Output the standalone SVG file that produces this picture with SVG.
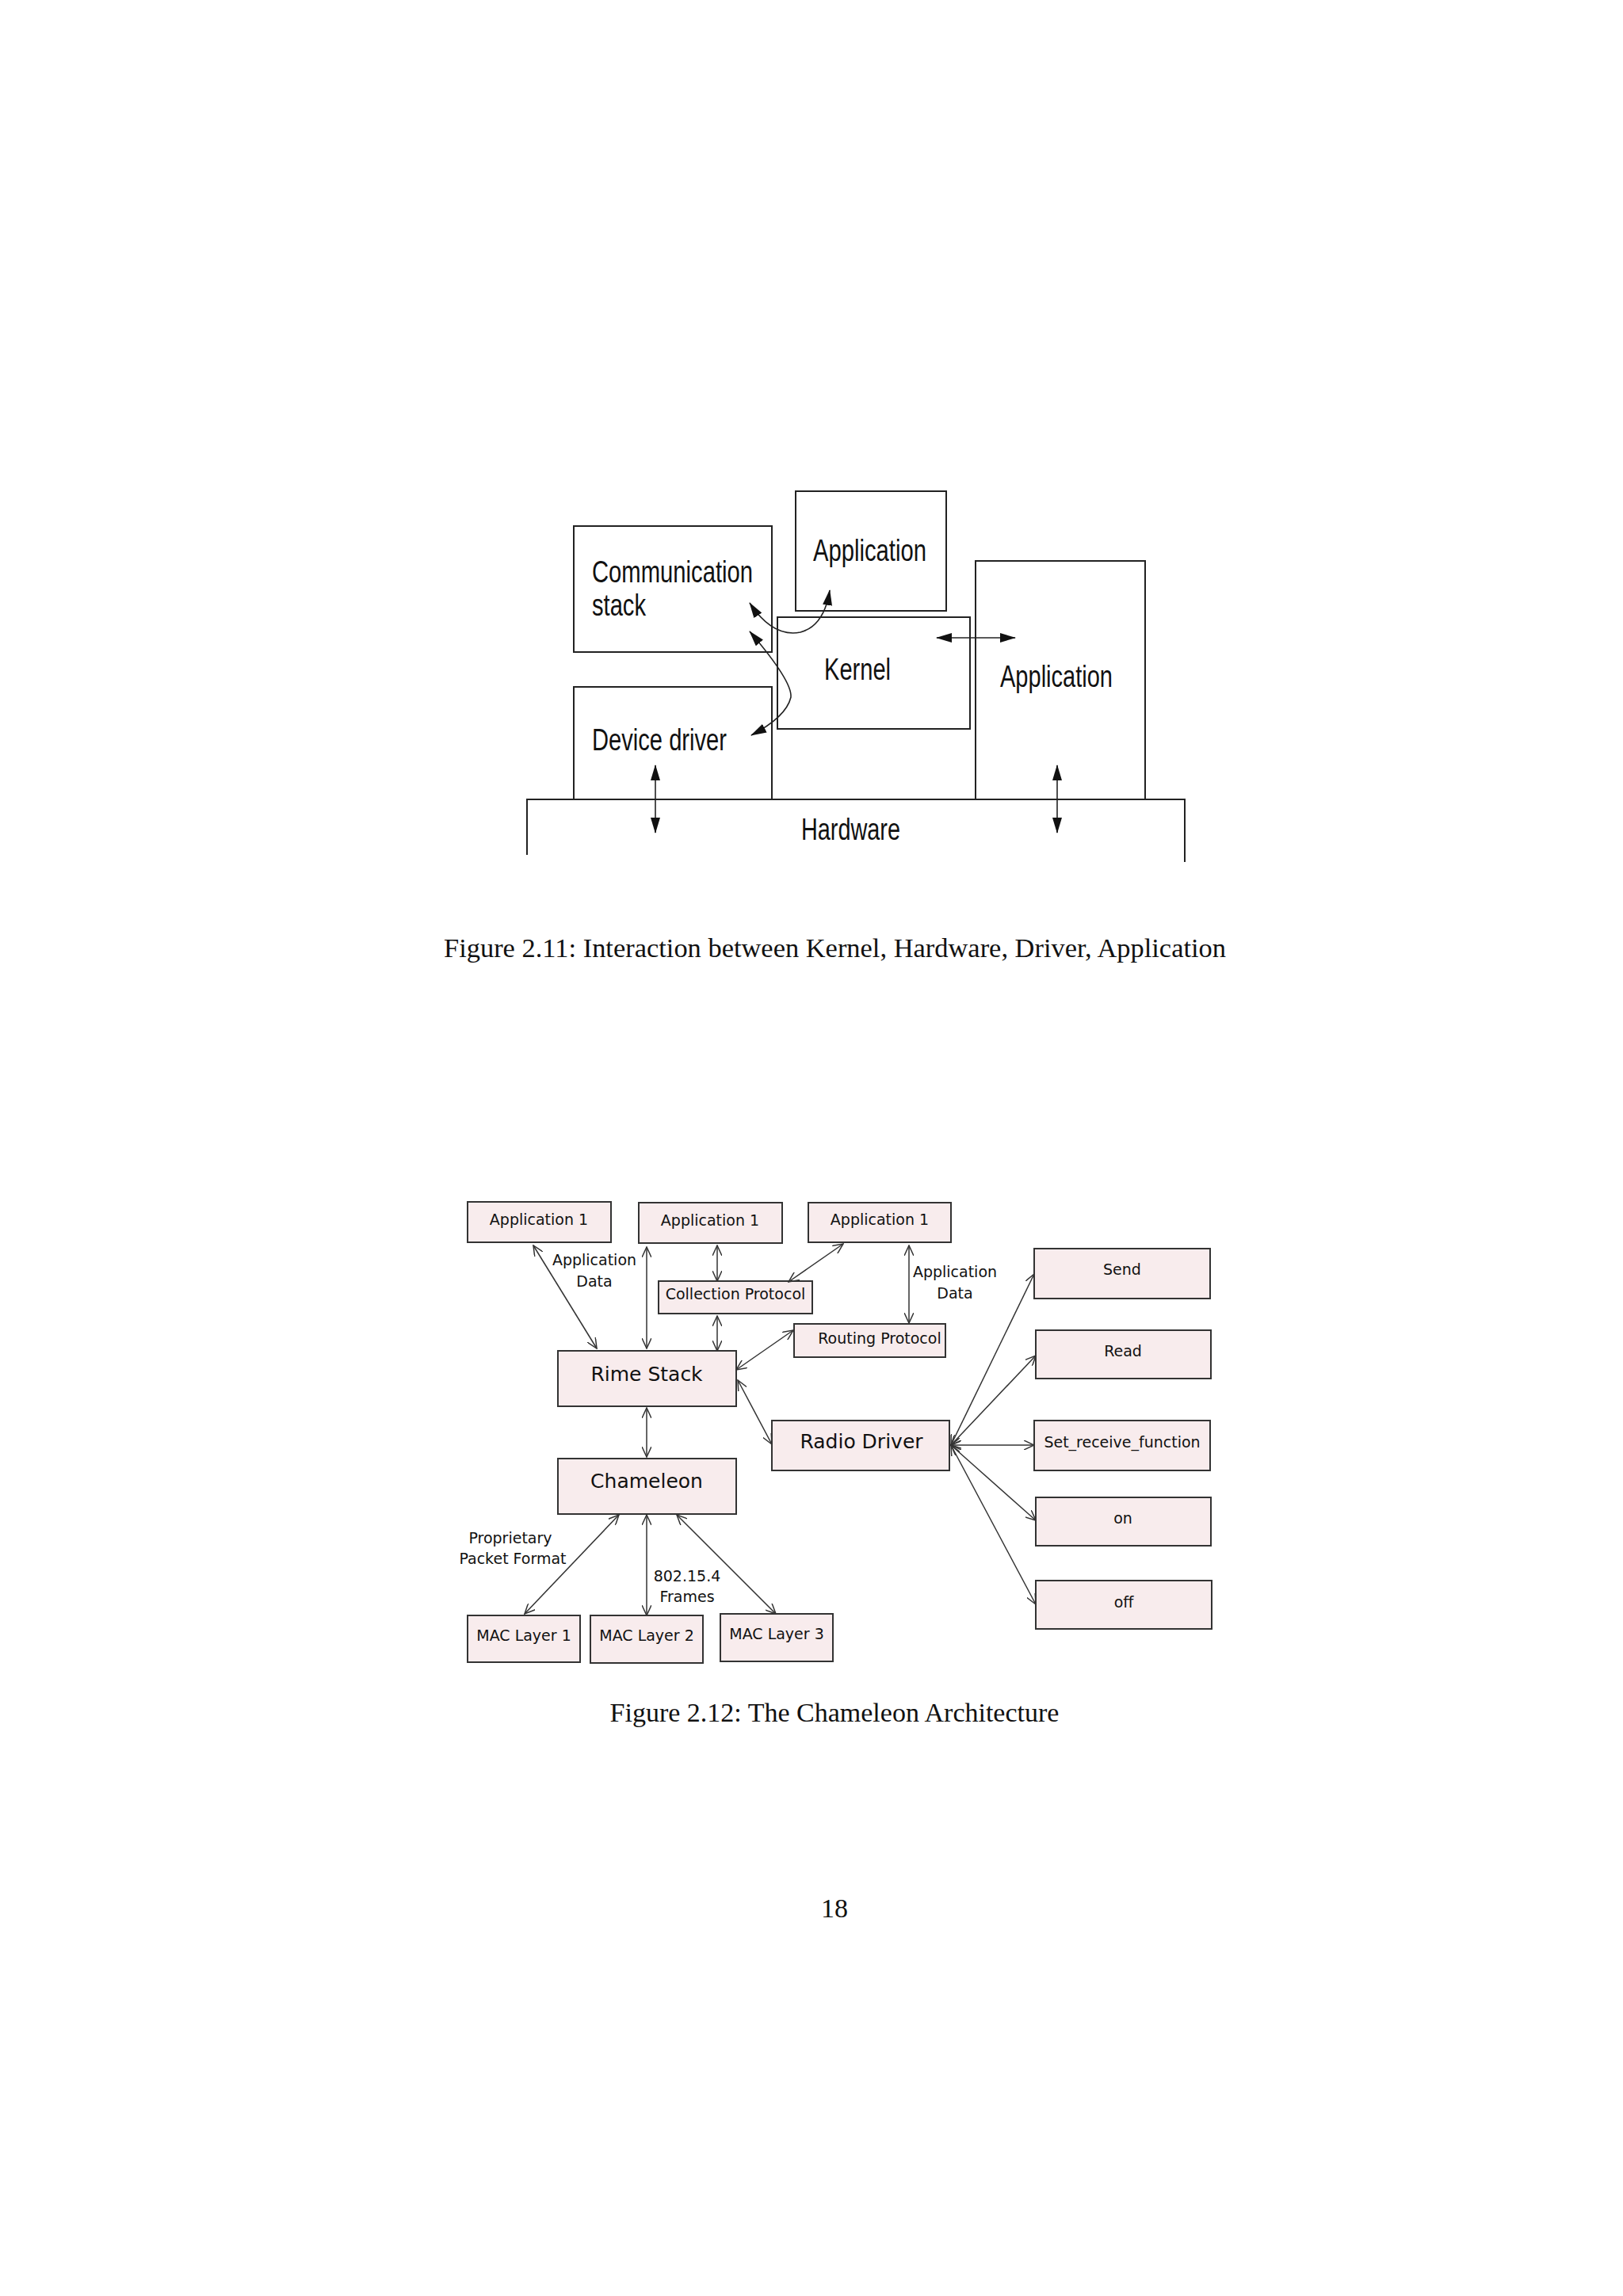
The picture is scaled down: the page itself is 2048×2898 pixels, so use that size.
<svg xmlns="http://www.w3.org/2000/svg" width="2048" height="2898" viewBox="0 0 2048 2898">
<style>
.b1{fill:none;stroke:#222;stroke-width:2}
.t1{font-family:"Liberation Sans",Arial,sans-serif;font-size:38px;fill:#111}
.cap{font-family:"Liberation Serif","Times New Roman",serif;font-size:34px;fill:#111}
.b2{fill:#f8eced;stroke:#333;stroke-width:2}
.t2{font-family:"DejaVu Sans",sans-serif;font-size:19px;fill:#111;text-anchor:middle}
.t3{font-family:"DejaVu Sans",sans-serif;font-size:25px;fill:#111;text-anchor:middle}
.c1{fill:none;stroke:#222;stroke-width:1.6;marker-start:url(#fa);marker-end:url(#fa)}
.c2{fill:none;stroke:#333;stroke-width:1.5;marker-start:url(#oa);marker-end:url(#oa)}
</style>
<defs>
<marker id="fa" viewBox="0 0 20 12" refX="19" refY="6" markerWidth="20" markerHeight="12" markerUnits="userSpaceOnUse" orient="auto-start-reverse"><path d="M0,0 L20,6 L0,12 Z" fill="#111"/></marker>
<marker id="oa" viewBox="0 0 14 12" refX="13" refY="6" markerWidth="14" markerHeight="12" markerUnits="userSpaceOnUse" orient="auto-start-reverse"><path d="M0,0 L13,6 L0,12" fill="none" stroke="#333" stroke-width="1.5"/></marker>
</defs>
<rect width="2048" height="2898" fill="#fff"/>

<!-- Figure 2.11 -->
<g id="hardware"><path class="b1" d="M665,1079 L665,1009 L1495,1009 L1495,1088"/><text class="t1" x="1011" y="1060" textLength="125" lengthAdjust="spacingAndGlyphs">Hardware</text></g>
<g id="comm"><rect class="b1" x="724" y="664" width="250" height="159"/><text class="t1" x="747" y="735" textLength="203" lengthAdjust="spacingAndGlyphs">Communication</text><text class="t1" x="747" y="777" textLength="68" lengthAdjust="spacingAndGlyphs">stack</text></g>
<g id="apptop"><rect class="b1" x="1004" y="620" width="190" height="151"/><text class="t1" x="1026" y="708" textLength="143" lengthAdjust="spacingAndGlyphs">Application</text></g>
<g id="kernel"><rect class="b1" x="981" y="779" width="243" height="141"/><text class="t1" x="1040" y="858" textLength="84" lengthAdjust="spacingAndGlyphs">Kernel</text></g>
<g id="appright"><path class="b1" d="M1231,1009 L1231,708 L1445,708 L1445,1009"/><text class="t1" x="1262" y="867" textLength="142" lengthAdjust="spacingAndGlyphs">Application</text></g>
<g id="driver"><path class="b1" d="M724,1009 L724,867 L974,867 L974,1009"/><text class="t1" x="747" y="947" textLength="170" lengthAdjust="spacingAndGlyphs">Device driver</text></g>
<g id="conn1">
<path class="c1" d="M946,761 Q975,805 1010,798 Q1040,790 1047,745"/>
<path class="c1" d="M946,797 Q1000,860 998,880 Q992,905 948,928"/>
<path class="c1" d="M1182,805 L1281,805"/>
<path class="c1" d="M827,966 L827,1051"/>
<path class="c1" d="M1334,966 L1334,1051"/>
</g>
<text class="cap" x="560" y="1208" textLength="987" lengthAdjust="spacingAndGlyphs">Figure 2.11: Interaction between Kernel, Hardware, Driver, Application</text>

<!-- Figure 2.12 -->
<g id="app1a"><rect class="b2" x="590" y="1517" width="181" height="51"/><text class="t2" x="680" y="1546">Application 1</text></g>
<g id="app1b"><rect class="b2" x="806" y="1518" width="181" height="51"/><text class="t2" x="896" y="1547">Application 1</text></g>
<g id="app1c"><rect class="b2" x="1020" y="1518" width="180" height="50"/><text class="t2" x="1110" y="1546">Application 1</text></g>
<g id="collection"><rect class="b2" x="831" y="1617" width="194" height="41"/><text class="t2" x="928" y="1640">Collection Protocol</text></g>
<g id="routing"><rect class="b2" x="1002" y="1671" width="191" height="42"/><text class="t2" x="1110" y="1696">Routing Protocol</text></g>
<g id="rime"><rect class="b2" x="704" y="1705" width="225" height="70"/><text class="t3" x="816" y="1743">Rime Stack</text></g>
<g id="radio"><rect class="b2" x="974" y="1793" width="224" height="63"/><text class="t3" x="1087" y="1828">Radio Driver</text></g>
<g id="chameleon"><rect class="b2" x="704" y="1841" width="225" height="70"/><text class="t3" x="816" y="1878">Chameleon</text></g>
<g id="mac1"><rect class="b2" x="590" y="2039" width="142" height="59"/><text class="t2" x="661" y="2071">MAC Layer 1</text></g>
<g id="mac2"><rect class="b2" x="745" y="2039" width="142" height="60"/><text class="t2" x="816" y="2071">MAC Layer 2</text></g>
<g id="mac3"><rect class="b2" x="909" y="2037" width="142" height="60"/><text class="t2" x="980" y="2069">MAC Layer 3</text></g>
<g id="send"><rect class="b2" x="1305" y="1576" width="222" height="63"/><text class="t2" x="1416" y="1609">Send</text></g>
<g id="read"><rect class="b2" x="1307" y="1679" width="221" height="61"/><text class="t2" x="1417" y="1712">Read</text></g>
<g id="setrecv"><rect class="b2" x="1305" y="1793" width="222" height="63"/><text class="t2" x="1416" y="1827">Set_receive_function</text></g>
<g id="on"><rect class="b2" x="1307" y="1890" width="221" height="61"/><text class="t2" x="1417" y="1923">on</text></g>
<g id="off"><rect class="b2" x="1307" y="1995" width="222" height="61"/><text class="t2" x="1418" y="2029">off</text></g>
<g id="labels">
<text class="t2" x="750" y="1597">Application</text><text class="t2" x="750" y="1624">Data</text>
<text class="t2" x="1205" y="1612">Application</text><text class="t2" x="1205" y="1639">Data</text>
<text class="t2" x="644" y="1948">Proprietary</text><text class="t2" x="647" y="1974">Packet Format</text>
<text class="t2" x="867" y="1996">802.15.4</text><text class="t2" x="867" y="2022">Frames</text>
</g>
<g id="conn2">
<path class="c2" d="M673,1572 L753,1702"/>
<path class="c2" d="M816,1574 L816,1702"/>
<path class="c2" d="M905,1572 L905,1617"/>
<path class="c2" d="M1064,1570 L995,1618"/>
<path class="c2" d="M1147,1572 L1147,1670"/>
<path class="c2" d="M905,1661 L905,1705"/>
<path class="c2" d="M1001,1679 L929,1729"/>
<path class="c2" d="M931,1742 L974,1823"/>
<path class="c2" d="M816,1777 L816,1839"/>
<path class="c2" d="M781,1912 L662,2037"/>
<path class="c2" d="M816,1912 L816,2039"/>
<path class="c2" d="M854,1912 L979,2037"/>
<path class="c2" d="M1200,1824 L1305,1608"/>
<path class="c2" d="M1200,1824 L1307,1711"/>
<path class="c2" d="M1200,1824 L1305,1824"/>
<path class="c2" d="M1200,1824 L1307,1919"/>
<path class="c2" d="M1200,1824 L1307,2025"/>
</g>
<text class="cap" x="1053" y="2173" text-anchor="middle">Figure 2.12: The Chameleon Architecture</text>
<text class="cap" x="1053" y="2420" text-anchor="middle">18</text>
</svg>
